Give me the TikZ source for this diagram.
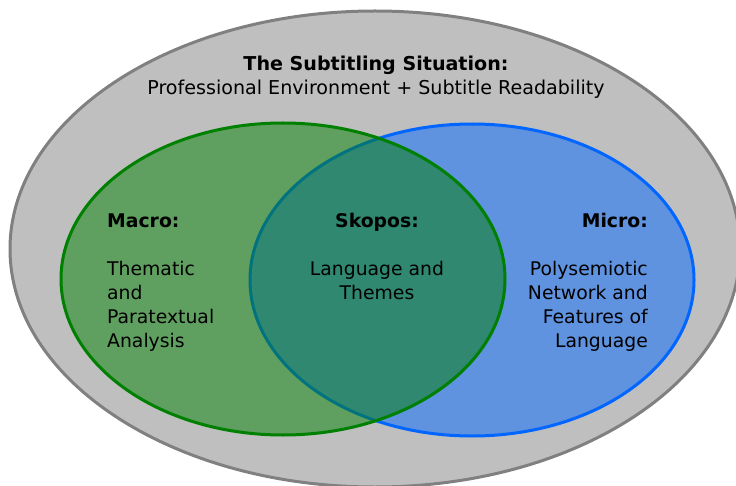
\documentclass[tikz,border=0pt]{standalone}
\usepackage{fontspec}
\setmainfont{DejaVu Sans}
\definecolor{outerfill}{RGB}{191,191,191}
\definecolor{outerline}{RGB}{128,128,128}
\definecolor{macrogreen}{RGB}{0,128,0}
\definecolor{microblue}{RGB}{0,102,255}
\begin{document}
\begin{tikzpicture}[x=1bp,y=-1bp,
  txt/.style={inner sep=0pt, font=\fontsize{18.8bp}{23.8bp}\selectfont},
  region/.style={line width=3bp}]
\useasboundingbox (0,0) rectangle (736,486);
\clip (0,0) rectangle (736,486);
% outer situation
\draw[region, fill=outerfill, draw=outerline] (375,249) ellipse [x radius=365, y radius=238];
% micro (blue)
\fill[microblue, fill opacity=0.5] (472,280) ellipse [x radius=222, y radius=156];
\draw[region, microblue] (472,280) ellipse [x radius=222, y radius=156];
% macro (green)
\fill[macrogreen, fill opacity=0.5] (283,279) ellipse [x radius=222, y radius=156];
\draw[region, macrogreen] (283,279) ellipse [x radius=222, y radius=156];
% texts
\node[txt, font=\fontsize{19.1bp}{24bp}\selectfont, anchor=base, align=center] (title) at (376,95)
  {\textbf{The Subtitling Situation:}\\Professional Environment + Subtitle Readability};
\node[txt, anchor=base west, align=left] (macro) at (107,347)
  {\textbf{Macro:}\\ \\Thematic\\and\\Paratextual\\Analysis};
\node[txt, anchor=base, align=center] (skopos) at (377,299)
  {\textbf{Skopos:}\\ \\Language and\\Themes};
\node[txt, anchor=base east, align=right] (micro) at (648,347)
  {\textbf{Micro:}\\ \\Polysemiotic\\Network and\\Features of\\Language};
\end{tikzpicture}
\end{document}
